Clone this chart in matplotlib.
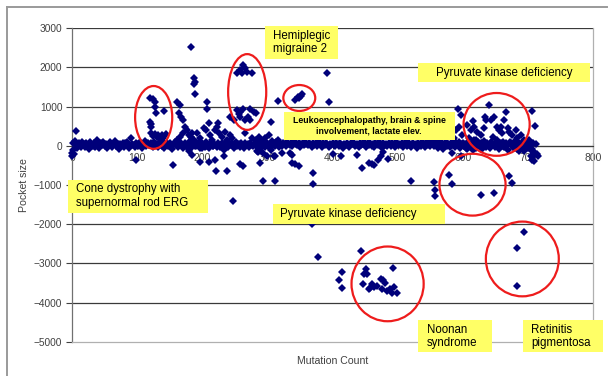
import matplotlib
matplotlib.use("Agg")
import matplotlib.pyplot as plt
from matplotlib.patches import Ellipse, Rectangle
from matplotlib.lines import Line2D
import numpy as np

plt.rcParams['font.family'] = ['Liberation Sans', 'DejaVu Sans']

# pocket size of the bulk of the mutations, every second mutation index
band_y = [
    -180, 60, 120, 30, -60, 80, 10, -40, 90, 40, -20, 70, 20, -70, 110, 30, 0, 60, -30, 150,
    40, -50, 80, 20, 100, -10, 50, -60, 30, 90, 10, -40, 70, 130, 0, 50, -80, 40, 20, 80,
    -20, 60, 110, 30, -50, 200, 40, 10, -30, 80, 50, -10, 90, 20, -60, 40, 120, 0, 70, 30,
    10, 60, -40, 90, 20, 40, -20, 80, 50, 0, 110, -50, 30, 70, -10, 60, 20, -70, 40, 90,
    30, -30, 50, 10, 80, -60, 20, 60, -20, 40, 100, 0, -40, 70, 30, -10, 50, 80, -50, 20,
    60, 10, -30, 90, 40, -60, 20, 70, -10, 50, 30, -40, 80, 10, -20, 60, 40, -70, 100, 20,
    -30, 50, 10, 70, -50, 30, 90, 0, 40, -20, 60, 20, -60, 80, 10, 40, -40, 70, 30, -10,
    50, 20, -30, 80, 40, -60, 10, 60, -20, 90, 30, 0, -50, 70, 20, 40, -10, 100, 30, -40,
    60, 20, 80, 40, -10, 90, 50, 30, 70, 0, 60, 100, 40, 20, 80, -20, 50, 70, 30, 90,
    40, 10, 70, 50, -30, 80, 20, 60, 0, 40, 90, 30, -20, 60, 10, 80, 40, -40, 50, 20,
    70, 30, -10, 60, 40, 0, 80, 20, -50, 50, 30, 70, 10, -20, 60, 40, 90, 0, 30, 50,
    -30, 70, 20, 40, 100, 10, -40, 60, 30, 80, 0, 50, -20, 70, 40, 10, 90, 30, -50, 60,
    20, 40, -10, 80, 50, 0, 60, 30, -40, 90, 20, 50, 10, 70, -30, 40, 60, 0, 110, 30,
    -20, 50, 80, 10, 40, -60, 70, 30, 0, 90, 50, -30, 60, 20, 120, -10, 40, 80, 0, 150,
    40, -50, 90, 20, 60, -80, 30, 110, 0, 50, -40, 70, 20, 130, -20, 60, 10, 90, -60, 40,
    80, 0, 50, -70, 110, 30, -30, 70, 20, 150, -50, 40, 90, 0, 60, -90, 120, 20, -20, 80,
    30, -60, 100, 10, 50, -40, 140, 20, -80, 70, 0, 110, -30, 60, 30, -100, 90, 10, 50, -50,
    120, 20, -70, 80, 40, -20, 100, -120, 60, 10, -60, 150, 30, -90, 70, -150, 40, -200, -250,
]
band_x = np.arange(0, 2 * len(band_y), 2)

# mutations away from the baseline
cone_x = [0, 1, 3, 6, 99, 155, 120, 124, 128, 128, 129, 142, 120, 121, 122, 122, 127, 132, 138, 144, 135, 130, 125, 140]
cone_y = [-270, -100, -220, 380, -370, -500, 1230, 1200, 1130, 985, 830, 890, 600, 560, 470, 320, 290, 280, 270, 300, 180, 220, 250, 200]

mid_x = [161, 166, 164, 168, 170, 174, 176, 179, 182, 184, 171, 166, 161, 164, 174, 182, 187, 189, 179, 184,
         192, 197, 202, 205, 210, 212, 215, 220, 223, 225, 230, 235, 238, 241, 243, 246, 248, 194, 200, 207,
         217, 228, 233, 220, 242, 248, 224,
         276, 282, 287, 292, 297, 302, 300, 307, 312, 317, 289, 284, 294, 305, 312, 323, 305, 317,
         182, 187, 189, 187, 189, 207, 208,
         196, 210, 221, 238, 233, 258, 262, 289, 294, 312, 247, 300, 310, 286, 335]
mid_y = [1128, 1044, 832, 747, 662, 492, 408, 280, 238, 323, 323, 238, 153, 26, -16, 68, 153, -16, -144, -228,
         323, 196, 450, 408, 577, 280, 153, 408, 492, 323, 238, 365, 153, 68, 280, 196, 26, 26, -59, -16,
         -16, 26, -101, -356, 730, 662, 594,
         196, 153, 238, 111, 196, 280, 26, 111, 68, 153, -16, -144, -186, -101, -271, -16, 620, 1145,
         2530, 1720, 1640, 1580, 1320, 1130, 935,
         -425, -415, -650, -650, -270, -465, -525, -440, -910, -890, -1400, -270, -270, -150, -190]

hemi_x = [263, 258, 253, 261, 269, 276, 266, 253, 258, 262, 274, 279, 258, 270, 266, 274, 265, 256, 283]
hemi_y = [2060, 1930, 1870, 1860, 1880, 1850, 1990, 915, 875, 950, 935, 875, 745, 745, 660, 660, 340, 820, 830]

leuko_x = [343, 347, 351, 353, 349, 392, 394]
leuko_y = [1171, 1239, 1273, 1323, 1213, 1849, 1128]

low_x = [338, 338, 342, 348, 370, 370, 323, 437, 446, 456, 460, 464, 470, 474, 478, 485, 413, 400,
         520, 556, 558, 557, 579, 583, 369, 378]
low_y = [-228, -440, -466, -508, -695, -975, -186, -228, -555, -430, -470, -500, -356, -271, -170, -330, -254, -200,
         -890, -930, -1119, -1280, -737, -975, -1990, -2840]

pk_x = [592, 598, 616, 634, 640, 635, 589, 595, 606, 612, 617, 622, 628, 633, 599, 610, 620, 630, 587, 592,
        605, 615, 584, 597, 666, 664, 706, 711, 653, 658, 676, 689, 648, 656, 661, 669, 671, 681, 684, 694,
        699, 702, 705, 707, 710, 705, 710, 674, 664, 653, 679, 692, 687, 646, 643,
        628, 648, 671, 675]
pk_y = [933, 789, 637, 747, 1044, 662, 408, 492, 535, 408, 492, 365, 280, 450, 280, 196, 153, 68, 196, 26,
        -59, -101, -186, -271, 874, 662, 899, 509, 475, 492, 280, 280, 747, 408, 323, 450, 365, 408, 196, 153,
        68, -16, -101, -356, -398, -271, -228, 68, 26, -16, -59, -16, -144, 238, 662,
        -1263, -1204, -780, -949]

noonan_x = [444, 415, 410, 415, 451, 448, 453, 493, 447, 461, 457, 464, 468, 474, 478, 481, 476, 484, 489, 495, 499, 492, 456]
noonan_y = [-2672, -3223, -3427, -3639, -3155, -3282, -3282, -3130, -3537, -3520, -3622, -3596, -3579, -3410,
            -3435, -3494, -3664, -3706, -3664, -3596, -3749, -3749, -3664]

rp_x = [694, 684, 683]
rp_y = [-2200, -2600, -3570]

y_ticks = [3000, 2000, 1000, 0, -1000, -2000, -3000, -4000, -5000]
x_ticks = [0, 100, 200, 300, 400, 500, 600, 700, 800]

fig = plt.figure(figsize=(6.11, 3.76), dpi=100)
ax = fig.add_axes([72 / 611, 34.3 / 376, 521 / 611, 313.4 / 376])
ax.set_xlim(0, 800)
ax.set_ylim(-5000, 3000)

navy = '#00007a'
xs = np.concatenate([band_x, cone_x, mid_x, hemi_x, leuko_x, low_x, pk_x, noonan_x, rp_x])
ys = np.concatenate([band_y, cone_y, mid_y, hemi_y, leuko_y, low_y, pk_y, noonan_y, rp_y])
ax.plot(xs, ys, 'D', color=navy, ms=3.9, mew=0, zorder=3, clip_on=False)

# gridlines, plot-area frame
for v in y_ticks[:-1]:
    ax.axhline(v, color='#3a3a3a', lw=0.9, zorder=1)
for s in ['top', 'right', 'left']:
    ax.spines[s].set_visible(False)
ax.spines['bottom'].set_position(('data', 0))
ax.spines['bottom'].set_color('#3a3a3a')
ax.plot([0, 0], [-5000, 3000], color='#707070', lw=0.9, zorder=2, clip_on=False)
ax.plot([800, 800], [-5000, 3000], color='#b0b0b0', lw=0.9, zorder=2, clip_on=False)
ax.plot([0, 800], [-5000, -5000], color='#b0b0b0', lw=0.9, zorder=2, clip_on=False)

ax.set_xticks(x_ticks)
ax.set_yticks(y_ticks)
ax.tick_params(axis='x', direction='inout', length=5, pad=3, colors='#404040', labelsize=7.5, width=0.8)
ax.tick_params(axis='y', direction='out', length=4, pad=3, colors='#404040', labelsize=7.3, width=0.8)
ax.set_xlabel('Mutation Count', fontsize=7.6, color='#404040')
ax.xaxis.set_label_coords(0.5, -0.045)
ax.set_ylabel('Pocket size', fontsize=7.6, color='#404040')
ax.yaxis.set_label_coords(-0.083, 0.5)

# red rings around the groups
rings = [
    (125.4, 725, 57, 1603),
    (269, 1374, 58.5, 1934),
    (349, 1221, 49, 662),
    (652, 547, 101.5, 1603),
    (615, -992, 101.5, 1578),
    (484.6, -3524, 110.8, 1908),
    (691.5, -2888, 112, 1908),
]
for cx, cy, w, h in rings:
    ax.add_patch(Ellipse((cx, cy), w, h, fill=False, ec='#ee1c1c', lw=1.6, zorder=4, clip_on=False))

# yellow callouts: box (x0, x1, y0, y1), text anchor, text
boxes = [
    ((297, 408, 2214, 3053), (308, 2634, 'left'), 'Hemiplegic\nmigraine 2', 'normal', 8.3),
    ((531, 795, 1628, 2112), (663, 1870, 'center'), 'Pyruvate kinase deficiency', 'normal', 8.3),
    ((325, 588, 153, 865), (456, 509, 'center'),
     'Leukoencephalopathy, brain & spine\ninvolvement, lactate elev.', 'bold', 6.3),
    ((-6, 209, -1705, -865), (6, -1285, 'left'), 'Cone dystrophy with\nsupernormal rod ERG', 'normal', 8.3),
    ((308, 572, -1985, -1476), (320, -1730, 'left'), 'Pyruvate kinase deficiency', 'normal', 8.3),
    ((531, 645, -5267, -4453), (545, -4860, 'left'), 'Noonan\nsyndrome', 'normal', 8.3),
    ((692, 815, -5267, -4453), (705, -4860, 'left'), 'Retinitis\npigmentosa', 'normal', 8.3),
]
for (x0, x1, y0, y1), (tx, ty, ha), label, weight, size in boxes:
    ax.add_patch(Rectangle((x0, y0), x1 - x0, y1 - y0, fc='#ffff66', ec='none', zorder=5, clip_on=False))
    ax.text(tx, ty, label, ha=ha, va='center', fontsize=size, fontweight=weight,
            color='black', zorder=6, linespacing=1.15, multialignment=ha)

# outer chart frame
fig.add_artist(Line2D([7 / 611, 607 / 611], [369 / 376, 369 / 376], color='#9a9a9a', lw=1.4))
fig.add_artist(Line2D([7 / 611, 7 / 611], [0, 369 / 376], color='#9a9a9a', lw=1.4))

fig.savefig('out.png', dpi=100)
